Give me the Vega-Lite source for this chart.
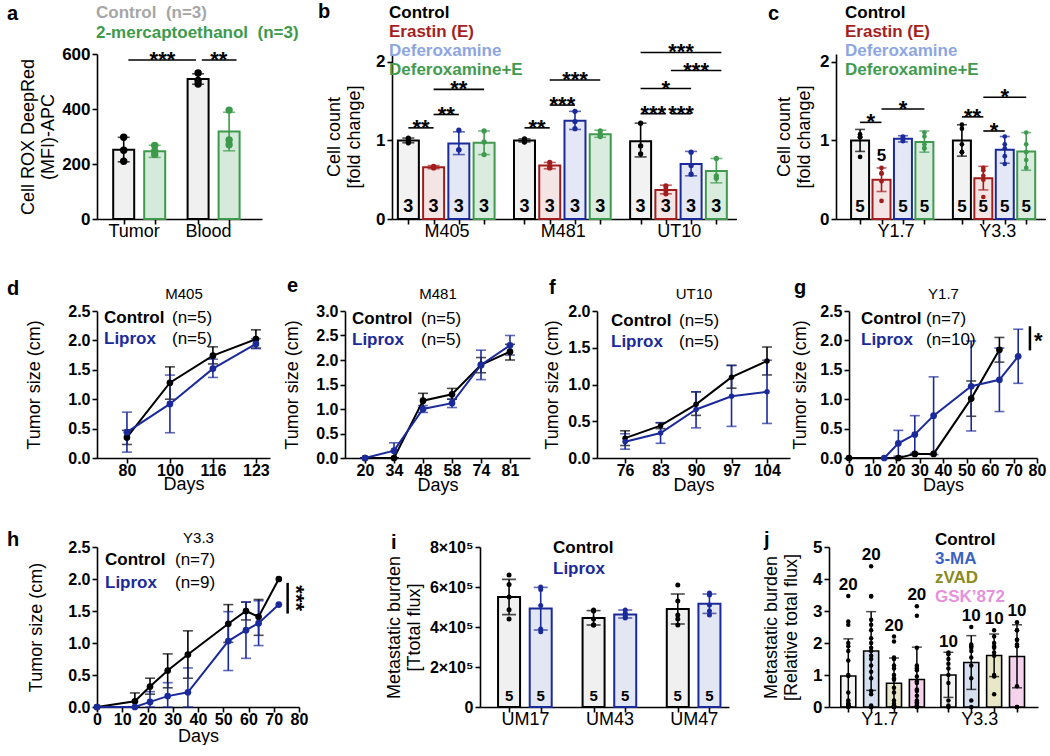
{
"$schema": "https://vega.github.io/schema/vega-lite/v6.json",
"background": "white",
"padding": {"left": 7, "top": 2, "right": 0, "bottom": 0},
"spacing": 36,
"resolve": {"scale": {"color": "independent", "fill": "independent", "stroke": "independent", "shape": "independent"}, "legend": {"color": "independent", "fill": "independent", "stroke": "independent", "shape": "independent"}},
"vconcat": [
{
"bounds": "flush", "spacing": 10,
"resolve": {"scale": {"color": "independent", "fill": "independent", "stroke": "independent", "shape": "independent"}, "legend": {"color": "independent", "fill": "independent", "stroke": "independent", "shape": "independent"}},
"hconcat": [
{
"width": 165, "height": 165,
"title": {"text": "a", "dx": -90, "dy": 24},
"resolve": {"axis": {"x": "independent", "y": "independent"}},
"layer": [
{"data": {"name": "a_bars"}, "mark": {"type": "bar", "width": 21, "strokeWidth": 2},
"encoding": {
"x": {"field": "pos", "type": "quantitative", "scale": {"domain": [0.3, 5.3], "nice": false, "zero": false}, "axis": {"orient": "bottom", "values": [1, 2, 3.4, 4.4], "labelExpr": "datum.value == 1 ? 'Tumor' : datum.value == 3.4 ? 'Blood' : ''", "labelOffset": 10, "labelPadding": -2, "labelFontWeight": "normal", "labelFontSize": 18, "title": null, "labelOverlap": false, "labelFlush": false}},
"y": {"field": "mean", "type": "quantitative", "scale": {"domain": [0, 600], "nice": false}, "axis": {"orient": "left", "values": [0, 200, 400, 600], "labelExpr": "'' + datum.value", "labelOverlap": false, "title": ["Cell ROX DeepRed", "(MFI)-APC"], "titleFontSize": 18, "titlePadding": 4, "labelFontSize": 17}},
"fill": {"field": "trt", "type": "nominal", "scale": {"domain": ["Control", "2-mercaptoethanol"], "range": ["#f0f0f0", "#d6eadb"]}, "legend": {"orient": "none", "legendX": -18, "legendY": -50, "title": null, "labelExpr": "datum.label + '\u00a0 (n=3)'", "labelColor": {"expr": "datum.value == 'Control' ? '#a6a6a6' : '#3d9a4a'"}, "labelFontSize": 17, "labelFontWeight": "bold", "rowPadding": 2}},
"stroke": {"field": "trt", "type": "nominal", "scale": {"domain": ["Control", "2-mercaptoethanol"], "range": ["#000000", "#3d9a4a"]}, "legend": null}}},
{"data": {"name": "a_bars"}, "mark": {"type": "errorbar", "ticks": {"size": 12}, "thickness": 1.6},
"encoding": {"x": {"field": "pos", "type": "quantitative", "axis": null}, "y": {"field": "lo", "type": "quantitative", "axis": null}, "y2": {"field": "hi"},
"color": {"field": "trt", "type": "nominal", "scale": {"domain": ["Control", "2-mercaptoethanol"], "range": ["#000000", "#3d9a4a"]}, "legend": null}}},
{"data": {"name": "a_pts"}, "mark": {"type": "circle", "size": 55, "opacity": 1},
"encoding": {"x": {"field": "pos", "type": "quantitative", "axis": null}, "y": {"field": "v", "type": "quantitative", "axis": null}, "color": {"field": "trt", "type": "nominal", "legend": null}}},
{"data": {"name": "a_sig"}, "mark": {"type": "rule", "strokeWidth": 1.6, "color": "#000000"},
"encoding": {"x": {"field": "x1", "type": "quantitative", "axis": null}, "x2": {"field": "x2"}, "y": {"field": "y", "type": "quantitative", "axis": null}}},
{"data": {"name": "a_sig"}, "mark": {"type": "text", "baseline": "alphabetic", "dy": 7, "fontSize": 22, "fontWeight": "bold", "font": "Liberation Sans"},
"encoding": {"x": {"field": "mid", "type": "quantitative", "axis": null}, "y": {"field": "y", "type": "quantitative", "axis": null}, "text": {"field": "lab"}}}
]
},
{"width": 110, "height": 1, "data": {"values": []}, "mark": "point", "encoding": {}},
{
"width": 344.5, "height": 165,
"title": {"text": "b", "dx": -74, "dy": 22},
"resolve": {"axis": {"x": "independent", "y": "independent"}},
"layer": [
{"data": {"name": "b_bars"}, "mark": {"type": "bar", "width": 21, "strokeWidth": 2},
"encoding": {
"x": {"field": "pos", "type": "quantitative", "scale": {"domain": [0.55, 13.8], "nice": false, "zero": false}, "axis": {"orient": "bottom", "values": [1, 2, 3, 4, 5.6, 6.6, 7.6, 8.6, 10.2, 11.2, 12.2, 13.2], "labelExpr": "datum.value == 2 ? 'M405' : datum.value == 6.6 ? 'M481' : datum.value == 11.2 ? 'UT10' : ''", "labelOffset": 13, "labelPadding": -2, "labelFontWeight": "normal", "labelFontSize": 18, "title": null, "labelOverlap": false, "labelFlush": false}},
"y": {"field": "mean", "type": "quantitative", "scale": {"domain": [0, 2.1], "nice": false}, "axis": {"orient": "left", "values": [0, 1, 2], "labelExpr": "'' + datum.value", "labelOverlap": false, "labelBound": false, "labelFlush": false, "title": ["Cell count", "[fold change]"], "titleFontSize": 18, "titlePadding": 12, "labelFontSize": 17}},
"fill": {"field": "trt", "type": "nominal", "scale": {"domain": ["Control", "Erastin (E)", "Deferoxamine", "Deferoxamine+E"], "range": ["#f2f2f2", "#f4e4e4", "#e4e7f5", "#d9ecdd"]}, "legend": {"orient": "none", "legendX": -20, "legendY": -50, "title": null, "labelColor": {"expr": "datum.value == 'Control' ? '#000000' : datum.value == 'Erastin (E)' ? '#a51f1f' : datum.value == 'Deferoxamine' ? '#8da6e2' : '#3f9b4e'"}, "labelFontSize": 17, "labelFontWeight": "bold", "rowPadding": 1}},
"stroke": {"field": "trt", "type": "nominal", "scale": {"domain": ["Control", "Erastin (E)", "Deferoxamine", "Deferoxamine+E"], "range": ["#000000", "#a21d1d", "#1b2a9b", "#3f9a50"]}, "legend": null}}},
{"data": {"name": "b_bars"}, "mark": {"type": "errorbar", "ticks": {"size": 12}, "thickness": 1.6},
"encoding": {"x": {"field": "pos", "type": "quantitative", "axis": null}, "y": {"field": "lo", "type": "quantitative", "axis": null}, "y2": {"field": "hi"},
"color": {"field": "trt", "type": "nominal", "scale": {"domain": ["Control", "Erastin (E)", "Deferoxamine", "Deferoxamine+E"], "range": ["#000000", "#a21d1d", "#1b2a9b", "#3f9a50"]}, "legend": null}}},
{"data": {"name": "b_pts"}, "mark": {"type": "circle", "size": 28, "opacity": 1},
"encoding": {"x": {"field": "pos", "type": "quantitative", "axis": null}, "y": {"field": "v", "type": "quantitative", "axis": null}, "color": {"field": "trt", "type": "nominal", "legend": null}}},
{"data": {"name": "b_bars"}, "mark": {"type": "text", "baseline": "bottom", "dy": -3, "fontSize": 18, "fontWeight": "bold", "font": "Liberation Sans", "color": "#000000"},
"encoding": {"x": {"field": "pos", "type": "quantitative", "axis": null}, "y": {"datum": 0, "axis": null}, "text": {"field": "n"}}},
{"data": {"name": "b_sig"}, "mark": {"type": "rule", "strokeWidth": 1.6, "color": "#000000"},
"encoding": {"x": {"field": "x1", "type": "quantitative", "axis": null}, "x2": {"field": "x2"}, "y": {"field": "y", "type": "quantitative", "axis": null}}},
{"data": {"name": "b_sig"}, "mark": {"type": "text", "baseline": "alphabetic", "dy": 7, "fontSize": 22, "fontWeight": "bold", "font": "Liberation Sans"},
"encoding": {"x": {"field": "mid", "type": "quantitative", "axis": null}, "y": {"field": "y", "type": "quantitative", "axis": null}, "text": {"field": "lab"}}}
]
},
{"width": 79, "height": 1, "data": {"values": []}, "mark": "point", "encoding": {}},
{
"width": 210, "height": 165,
"title": {"text": "c", "dx": -68, "dy": 24},
"resolve": {"axis": {"x": "independent", "y": "independent"}},
"layer": [
{"data": {"name": "c_bars"}, "mark": {"type": "bar", "width": 18, "strokeWidth": 2},
"encoding": {
"x": {"field": "pos", "type": "quantitative", "scale": {"domain": [0.11, 9.44], "nice": false, "zero": false}, "axis": {"orient": "bottom", "values": [1, 2, 3, 4, 5.75, 6.75, 7.75, 8.75], "labelExpr": "datum.value == 2 ? 'Y1.7' : datum.value == 6.75 ? 'Y3.3' : ''", "labelOffset": 14, "labelPadding": -2, "labelFontWeight": "normal", "labelFontSize": 18, "title": null, "labelOverlap": false, "labelFlush": false}},
"y": {"field": "mean", "type": "quantitative", "scale": {"domain": [0, 2.1], "nice": false}, "axis": {"orient": "left", "values": [0, 1, 2], "labelExpr": "'' + datum.value", "labelOverlap": false, "labelBound": false, "labelFlush": false, "title": ["Cell count", "[fold change]"], "titleFontSize": 18, "titlePadding": 6, "labelFontSize": 17}},
"fill": {"field": "trt", "type": "nominal", "scale": {"domain": ["Control", "Erastin (E)", "Deferoxamine", "Deferoxamine+E"], "range": ["#f2f2f2", "#f4e4e4", "#e4e7f5", "#d9ecdd"]}, "legend": {"orient": "none", "legendX": -8, "legendY": -50, "title": null, "labelColor": {"expr": "datum.value == 'Control' ? '#000000' : datum.value == 'Erastin (E)' ? '#a51f1f' : datum.value == 'Deferoxamine' ? '#8da6e2' : '#3f9b4e'"}, "labelFontSize": 17, "labelFontWeight": "bold", "rowPadding": 1}},
"stroke": {"field": "trt", "type": "nominal", "scale": {"domain": ["Control", "Erastin (E)", "Deferoxamine", "Deferoxamine+E"], "range": ["#000000", "#a21d1d", "#1b2a9b", "#3f9a50"]}, "legend": null}}},
{"data": {"name": "c_bars"}, "mark": {"type": "errorbar", "ticks": {"size": 10}, "thickness": 1.6},
"encoding": {"x": {"field": "pos", "type": "quantitative", "axis": null}, "y": {"field": "lo", "type": "quantitative", "axis": null}, "y2": {"field": "hi"},
"color": {"field": "trt", "type": "nominal", "scale": {"domain": ["Control", "Erastin (E)", "Deferoxamine", "Deferoxamine+E"], "range": ["#000000", "#a21d1d", "#1b2a9b", "#3f9a50"]}, "legend": null}}},
{"data": {"name": "c_pts"}, "mark": {"type": "circle", "size": 22, "opacity": 1},
"encoding": {"x": {"field": "pos", "type": "quantitative", "axis": null}, "y": {"field": "v", "type": "quantitative", "axis": null}, "color": {"field": "trt", "type": "nominal", "legend": null}}},
{"data": {"name": "c_bars"}, "transform": [{"filter": "datum.pos != 2"}], "mark": {"type": "text", "baseline": "bottom", "dy": -3, "fontSize": 17, "fontWeight": "bold", "font": "Liberation Sans", "color": "#000000"},
"encoding": {"x": {"field": "pos", "type": "quantitative", "axis": null}, "y": {"datum": 0, "axis": null}, "text": {"field": "n"}}},
{"data": {"name": "c_bars"}, "transform": [{"filter": "datum.pos == 2"}], "mark": {"type": "text", "baseline": "bottom", "dy": -3, "fontSize": 17, "fontWeight": "bold", "font": "Liberation Sans", "color": "#000000"},
"encoding": {"x": {"field": "pos", "type": "quantitative", "axis": null}, "y": {"field": "hi", "type": "quantitative", "axis": null}, "text": {"field": "n"}}},
{"data": {"name": "c_sig"}, "mark": {"type": "rule", "strokeWidth": 1.6, "color": "#000000"},
"encoding": {"x": {"field": "x1", "type": "quantitative", "axis": null}, "x2": {"field": "x2"}, "y": {"field": "y", "type": "quantitative", "axis": null}}},
{"data": {"name": "c_sig"}, "mark": {"type": "text", "baseline": "alphabetic", "dy": 7, "fontSize": 22, "fontWeight": "bold", "font": "Liberation Sans"},
"encoding": {"x": {"field": "mid", "type": "quantitative", "axis": null}, "y": {"field": "y", "type": "quantitative", "axis": null}, "text": {"field": "lab"}}}
]
}
]
},
{
"bounds": "flush", "spacing": 10,
"resolve": {"scale": {"color": "independent", "fill": "independent", "stroke": "independent", "shape": "independent"}, "legend": {"color": "independent", "fill": "independent", "stroke": "independent", "shape": "independent"}},
"hconcat": [
{
"width": 173, "height": 147,
"title": {"text": "d", "dx": -90, "dy": 17},
"data": {"name": "d_data"},
"resolve": {"axis": {"x": "independent", "y": "independent"}},
"layer": [
{"mark": {"type": "errorbar", "ticks": {"size": 10}, "thickness": 1.6},
"encoding": {
"x": {"field": "day", "type": "ordinal", "scale": {"type": "point", "padding": 0.512, "align": 0.68}, "axis": null},
"y": {"field": "lo", "type": "quantitative", "axis": null}, "y2": {"field": "hi"},
"color": {"field": "grp", "type": "nominal", "scale": {"domain": ["Control", "Liprox"], "range": ["#000000", "#1b2a9a"]}}}},
{"mark": {"type": "line", "strokeWidth": 2},
"encoding": {
"x": {"field": "day", "type": "ordinal", "axis": {"orient": "bottom", "domain": true, "ticks": true, "title": "Days", "labelAngle": 0, "labelFontSize": 16, "titleFontSize": 18, "titlePadding": -3, "labelPadding": -1}},
"y": {"field": "mean", "type": "quantitative", "scale": {"domain": [0, 2.5], "nice": false}, "axis": {"orient": "left", "values": [0, 0.5, 1, 1.5, 2, 2.5], "format": ".1f", "labelOverlap": false, "title": "Tumor size (cm)", "titleFontSize": 18, "titlePadding": 24}},
"color": {"field": "grp", "type": "nominal", "legend": {"orient": "none", "legendX": -10, "legendY": -2, "title": null, "labelColor": {"expr": "datum.value == 'Control' ? '#000000' : '#1b2a9a'"}, "labelFontSize": 17, "labelFontWeight": "bold", "rowPadding": 3}}}},
{"mark": {"type": "point", "filled": true, "size": 45, "opacity": 1},
"encoding": {
"x": {"field": "day", "type": "ordinal", "axis": {"orient": "top", "title": "M405", "labels": false, "ticks": false, "domain": false, "titleFontSize": 15, "titleFontWeight": "normal", "titlePadding": 10}},
"y": {"field": "mean", "type": "quantitative", "axis": null},
"color": {"field": "grp", "type": "nominal"},
"shape": {"field": "nlab", "type": "nominal", "scale": {"range": ["circle", "circle"]}, "legend": {"orient": "none", "legendX": 58, "legendY": -2, "title": null, "labelExpr": "split(datum.label, ' ')[1]", "labelColor": "#000000", "labelFontSize": 17, "labelFontWeight": "normal", "rowPadding": 3}}}}
]
},
{"width": 55, "height": 1, "data": {"values": []}, "mark": "point", "encoding": {}},
{
"width": 185, "height": 147,
"title": {"text": "e", "dx": -58, "dy": 14},
"data": {"name": "e_data"},
"resolve": {"axis": {"x": "independent", "y": "independent"}},
"layer": [
{"mark": {"type": "errorbar", "ticks": {"size": 10}, "thickness": 1.6},
"encoding": {
"x": {"field": "day", "type": "ordinal", "scale": {"type": "point", "padding": 0.69, "align": 0.5}, "axis": null},
"y": {"field": "lo", "type": "quantitative", "axis": null}, "y2": {"field": "hi"},
"color": {"field": "grp", "type": "nominal", "scale": {"domain": ["Control", "Liprox"], "range": ["#000000", "#1b2a9a"]}}}},
{"mark": {"type": "line", "strokeWidth": 2},
"encoding": {
"x": {"field": "day", "type": "ordinal", "axis": {"orient": "bottom", "domain": true, "ticks": true, "title": "Days", "labelAngle": 0, "labelFontSize": 16, "titleFontSize": 18, "titlePadding": -2, "labelPadding": -1}},
"y": {"field": "mean", "type": "quantitative", "scale": {"domain": [0, 3], "nice": false}, "axis": {"orient": "left", "values": [0, 0.5, 1, 1.5, 2, 2.5, 3], "format": ".1f", "labelOverlap": false, "title": "Tumor size (cm)", "titleFontSize": 18, "titlePadding": 14}},
"color": {"field": "grp", "type": "nominal", "legend": {"orient": "none", "legendX": -10, "legendY": -1, "title": null, "labelColor": {"expr": "datum.value == 'Control' ? '#000000' : '#1b2a9a'"}, "labelFontSize": 17, "labelFontWeight": "bold", "rowPadding": 3}}}},
{"mark": {"type": "point", "filled": true, "size": 45, "opacity": 1},
"encoding": {
"x": {"field": "day", "type": "ordinal", "axis": {"orient": "top", "title": "M481", "labels": false, "ticks": false, "domain": false, "titleFontSize": 15, "titleFontWeight": "normal", "titlePadding": 10}},
"y": {"field": "mean", "type": "quantitative", "axis": null},
"color": {"field": "grp", "type": "nominal"},
"shape": {"field": "nlab", "type": "nominal", "scale": {"range": ["circle", "circle"]}, "legend": {"orient": "none", "legendX": 59, "legendY": -1, "title": null, "labelExpr": "split(datum.label, ' ')[1]", "labelColor": "#000000", "labelFontSize": 17, "labelFontWeight": "normal", "rowPadding": 3}}}}
]
},
{"width": 47, "height": 1, "data": {"values": []}, "mark": "point", "encoding": {}},
{
"width": 193, "height": 147,
"title": {"text": "f", "dx": -48, "dy": 16},
"data": {"name": "f_data"},
"resolve": {"axis": {"x": "independent", "y": "independent"}},
"layer": [
{"mark": {"type": "errorbar", "ticks": {"size": 10}, "thickness": 1.6},
"encoding": {
"x": {"field": "day", "type": "ordinal", "scale": {"type": "point", "padding": 0.72, "align": 0.55}, "axis": null},
"y": {"field": "lo", "type": "quantitative", "axis": null}, "y2": {"field": "hi"},
"color": {"field": "grp", "type": "nominal", "scale": {"domain": ["Control", "Liprox"], "range": ["#000000", "#1b2a9a"]}}}},
{"mark": {"type": "line", "strokeWidth": 2},
"encoding": {
"x": {"field": "day", "type": "ordinal", "axis": {"orient": "bottom", "domain": true, "ticks": true, "title": "Days", "labelAngle": 0, "labelFontSize": 16, "titleFontSize": 18, "titlePadding": -2, "labelPadding": -1}},
"y": {"field": "mean", "type": "quantitative", "scale": {"domain": [0, 2], "nice": false}, "axis": {"orient": "left", "values": [0, 0.5, 1, 1.5, 2], "format": ".1f", "labelOverlap": false, "title": "Tumor size (cm)", "titleFontSize": 18, "titlePadding": 6}},
"color": {"field": "grp", "type": "nominal", "legend": {"orient": "none", "legendX": -3, "legendY": 1, "title": null, "labelColor": {"expr": "datum.value == 'Control' ? '#000000' : '#1b2a9a'"}, "labelFontSize": 17, "labelFontWeight": "bold", "rowPadding": 3}}}},
{"mark": {"type": "point", "filled": true, "size": 30, "opacity": 1},
"encoding": {
"x": {"field": "day", "type": "ordinal", "axis": {"orient": "top", "title": "UT10", "labels": false, "ticks": false, "domain": false, "titleFontSize": 15, "titleFontWeight": "normal", "titlePadding": 10}},
"y": {"field": "mean", "type": "quantitative", "axis": null},
"color": {"field": "grp", "type": "nominal"},
"shape": {"field": "nlab", "type": "nominal", "scale": {"range": ["circle", "circle"]}, "legend": {"orient": "none", "legendX": 65, "legendY": 1, "title": null, "labelExpr": "split(datum.label, ' ')[1]", "labelColor": "#000000", "labelFontSize": 17, "labelFontWeight": "normal", "rowPadding": 3}}}}
]
},
{"width": 39, "height": 1, "data": {"values": []}, "mark": "point", "encoding": {}},
{
"width": 188, "height": 147,
"title": {"text": "g", "dx": -55, "dy": 16},
"resolve": {"axis": {"x": "independent", "y": "independent"}},
"layer": [
{"data": {"name": "g_data"}, "mark": {"type": "errorbar", "ticks": {"size": 10}, "thickness": 1.6},
"encoding": {
"x": {"field": "day", "type": "quantitative", "scale": {"domain": [0, 80], "nice": false}, "axis": null},
"y": {"field": "lo", "type": "quantitative", "axis": null}, "y2": {"field": "hi"},
"color": {"field": "grp", "type": "nominal", "scale": {"domain": ["Control", "Liprox"], "range": ["#000000", "#1b2a9a"]}}}},
{"data": {"name": "g_data"}, "mark": {"type": "line", "strokeWidth": 2},
"encoding": {
"x": {"field": "day", "type": "quantitative", "axis": {"orient": "bottom", "domain": true, "ticks": true, "title": "Days", "values": [0, 10, 20, 30, 40, 50, 60, 70, 80], "labelFontSize": 16, "titleFontSize": 18, "titlePadding": -2, "labelPadding": -1, "labelOverlap": false, "labelFlush": false}},
"y": {"field": "mean", "type": "quantitative", "scale": {"domain": [0, 2.5], "nice": false}, "axis": {"orient": "left", "values": [0, 0.5, 1, 1.5, 2, 2.5], "format": ".1f", "labelOverlap": false, "title": "Tumor size (cm)", "titleFontSize": 18, "titlePadding": 10}},
"color": {"field": "grp", "type": "nominal", "legend": {"orient": "none", "legendX": -5, "legendY": -1, "title": null, "labelColor": {"expr": "datum.value == 'Control' ? '#000000' : '#1b2a9a'"}, "labelFontSize": 17, "labelFontWeight": "bold", "rowPadding": 3}}}},
{"data": {"name": "g_data"}, "mark": {"type": "point", "filled": true, "size": 45, "opacity": 1},
"encoding": {
"x": {"field": "day", "type": "quantitative", "axis": {"orient": "top", "title": "Y1.7", "labels": false, "ticks": false, "domain": false, "titleFontSize": 15, "titleFontWeight": "normal", "titlePadding": 10}},
"y": {"field": "mean", "type": "quantitative", "axis": null},
"color": {"field": "grp", "type": "nominal"},
"shape": {"field": "nlab", "type": "nominal", "scale": {"range": ["circle", "circle"]}, "legend": {"orient": "none", "legendX": 60, "legendY": -1, "title": null, "labelExpr": "split(datum.label, ' ')[1]", "labelColor": "#000000", "labelFontSize": 17, "labelFontWeight": "normal", "rowPadding": 3}}}},
{"data": {"name": "g_sig"}, "mark": {"type": "rule", "strokeWidth": 2.5, "color": "#000000"},
"encoding": {"x": {"field": "x", "type": "quantitative", "axis": null}, "y": {"field": "y1", "type": "quantitative", "axis": null}, "y2": {"field": "y2"}}},
{"data": {"name": "g_sig"}, "mark": {"type": "text", "baseline": "middle", "dy": 4, "fontSize": 22, "fontWeight": "bold", "font": "Liberation Sans"},
"encoding": {"x": {"field": "tx", "type": "quantitative", "axis": null}, "y": {"field": "ty", "type": "quantitative", "axis": null}, "text": {"field": "lab"}}}
]
}
]
},
{
"bounds": "flush", "spacing": 10,
"resolve": {"scale": {"color": "independent", "fill": "independent", "stroke": "independent", "shape": "independent"}, "legend": {"color": "independent", "fill": "independent", "stroke": "independent", "shape": "independent"}},
"hconcat": [
{
"width": 202, "height": 160,
"title": {"text": "h", "dx": -90, "dy": 24},
"resolve": {"axis": {"x": "independent", "y": "independent"}},
"layer": [
{"data": {"name": "h_data"}, "mark": {"type": "errorbar", "ticks": {"size": 10}, "thickness": 1.6},
"encoding": {
"x": {"field": "day", "type": "quantitative", "scale": {"domain": [0, 80], "nice": false}, "axis": null},
"y": {"field": "lo", "type": "quantitative", "axis": null}, "y2": {"field": "hi"},
"color": {"field": "grp", "type": "nominal", "scale": {"domain": ["Control", "Liprox"], "range": ["#000000", "#1b2a9a"]}}}},
{"data": {"name": "h_data"}, "mark": {"type": "line", "strokeWidth": 2},
"encoding": {
"x": {"field": "day", "type": "quantitative", "axis": {"orient": "bottom", "domain": true, "ticks": true, "title": "Days", "values": [0, 10, 20, 30, 40, 50, 60, 70, 80], "labelFontSize": 16, "titleFontSize": 18, "titlePadding": 0, "labelPadding": -1, "labelOverlap": false, "labelFlush": false}},
"y": {"field": "mean", "type": "quantitative", "scale": {"domain": [0, 2.5], "nice": false}, "axis": {"orient": "left", "values": [0, 0.5, 1, 1.5, 2, 2.5], "format": ".1f", "labelOverlap": false, "title": "Tumor size (cm)", "titleFontSize": 18, "titlePadding": 22}},
"color": {"field": "grp", "type": "nominal", "legend": {"orient": "none", "legendX": -9, "legendY": 4, "title": null, "labelColor": {"expr": "datum.value == 'Control' ? '#000000' : '#1b2a9a'"}, "labelFontSize": 17, "labelFontWeight": "bold", "rowPadding": 5}}}},
{"data": {"name": "h_data"}, "mark": {"type": "point", "filled": true, "size": 45, "opacity": 1},
"encoding": {
"x": {"field": "day", "type": "quantitative", "axis": {"orient": "top", "title": "Y3.3", "labels": false, "ticks": false, "domain": false, "titleFontSize": 15, "titleFontWeight": "normal", "titlePadding": 2}},
"y": {"field": "mean", "type": "quantitative", "axis": null},
"color": {"field": "grp", "type": "nominal"},
"shape": {"field": "nlab", "type": "nominal", "scale": {"range": ["circle", "circle"]}, "legend": {"orient": "none", "legendX": 61, "legendY": 4, "title": null, "labelExpr": "split(datum.label, ' ')[1]", "labelColor": "#000000", "labelFontSize": 17, "labelFontWeight": "normal", "rowPadding": 5}}}},
{"data": {"name": "h_sig"}, "mark": {"type": "rule", "strokeWidth": 2.5, "color": "#000000"},
"encoding": {"x": {"field": "x", "type": "quantitative", "axis": null}, "y": {"field": "y1", "type": "quantitative", "axis": null}, "y2": {"field": "y2"}}},
{"data": {"name": "h_sig"}, "mark": {"type": "text", "baseline": "middle", "align": "center", "angle": 90, "fontSize": 22, "fontWeight": "bold", "font": "Liberation Sans"},
"encoding": {"x": {"field": "tx", "type": "quantitative", "axis": null}, "y": {"field": "ty", "type": "quantitative", "axis": null}, "text": {"field": "lab"}}}
]
},
{"width": 161, "height": 1, "data": {"values": []}, "mark": "point", "encoding": {}},
{
"width": 249, "height": 160,
"title": {"text": "i", "dx": -89, "dy": 18},
"resolve": {"axis": {"x": "independent", "y": "independent"}},
"layer": [
{"data": {"name": "i_bars"}, "mark": {"type": "bar", "width": 22, "strokeWidth": 2},
"encoding": {
"x": {"field": "pos", "type": "quantitative", "scale": {"domain": [0.24, 7.79], "nice": false, "zero": false}, "axis": {"orient": "bottom", "values": [1, 2, 3.67, 4.67, 6.33, 7.33], "labelExpr": "datum.value == 1 ? 'UM17' : datum.value == 3.67 ? 'UM43' : datum.value == 6.33 ? 'UM47' : ''", "labelOffset": 16, "labelPadding": -2, "labelFontWeight": "normal", "labelFontSize": 18, "title": null, "labelOverlap": false, "labelFlush": false}},
"y": {"field": "mean", "type": "quantitative", "scale": {"domain": [0, 800000], "nice": false}, "axis": {"orient": "left", "values": [0, 200000, 400000, 600000, 800000], "labelOverlap": false, "labelExpr": "datum.value == 0 ? '0' : format(datum.value / 100000, 'd') + '×10⁵'", "title": ["Metastatic burden", "[Ttotal flux]"], "titleFontSize": 18, "titlePadding": 6, "labelFontSize": 16}},
"fill": {"field": "trt", "type": "nominal", "scale": {"domain": ["Control", "Liprox"], "range": ["#f0f0f0", "#e3e6f3"]}, "legend": {"orient": "none", "legendX": 56, "legendY": -8, "title": null, "labelColor": {"expr": "datum.value == 'Control' ? '#000000' : '#1b2a9a'"}, "labelFontSize": 17, "labelFontWeight": "bold", "rowPadding": 3}},
"stroke": {"field": "trt", "type": "nominal", "scale": {"domain": ["Control", "Liprox"], "range": ["#000000", "#1b2a9a"]}, "legend": null}}},
{"data": {"name": "i_bars"}, "mark": {"type": "errorbar", "ticks": {"size": 14}, "thickness": 1.6},
"encoding": {"x": {"field": "pos", "type": "quantitative", "axis": null}, "y": {"field": "lo", "type": "quantitative", "axis": null}, "y2": {"field": "hi"},
"color": {"field": "trt", "type": "nominal", "scale": {"domain": ["Control", "Liprox"], "range": ["#000000", "#1b2a9a"]}, "legend": null}}},
{"data": {"name": "i_pts"}, "mark": {"type": "circle", "size": 25, "opacity": 1},
"encoding": {"x": {"field": "pos", "type": "quantitative", "axis": null}, "y": {"field": "v", "type": "quantitative", "axis": null}, "color": {"field": "trt", "type": "nominal", "legend": null}}},
{"data": {"name": "i_bars"}, "mark": {"type": "text", "baseline": "bottom", "dy": -3, "fontSize": 15, "fontWeight": "bold", "font": "Liberation Sans", "color": "#000000"},
"encoding": {"x": {"field": "pos", "type": "quantitative", "axis": null}, "y": {"datum": 0, "axis": null}, "text": {"field": "n"}}}
]
},
{"width": 80, "height": 1, "data": {"values": []}, "mark": "point", "encoding": {}},
{
"width": 209, "height": 160,
"title": {"text": "j", "dx": -65, "dy": 23},
"resolve": {"axis": {"x": "independent", "y": "independent"}},
"layer": [
{"data": {"name": "j_bars"}, "mark": {"type": "bar", "width": 15, "strokeWidth": 1.6, "stroke": "#000000"},
"encoding": {
"x": {"field": "pos", "type": "quantitative", "scale": {"domain": [0.375, 9.08], "nice": false, "zero": false}, "axis": {"orient": "bottom", "values": [1, 2, 3, 4, 5.38, 6.38, 7.38, 8.38], "labelExpr": "datum.value == 2 ? 'Y1.7' : datum.value == 6.38 ? 'Y3.3' : ''", "labelOffset": 8, "labelPadding": -2, "labelFontWeight": "normal", "labelFontSize": 18, "title": null, "labelOverlap": false, "labelFlush": false}},
"y": {"field": "mean", "type": "quantitative", "scale": {"domain": [0, 5], "nice": false}, "axis": {"orient": "left", "values": [0, 1, 2, 3, 4, 5], "labelExpr": "'' + datum.value", "labelOverlap": false, "title": ["Metastatic burden", "[Relative total flux]"], "titleFontSize": 18, "titlePadding": 12, "labelFontSize": 17}},
"fill": {"field": "trt", "type": "nominal", "scale": {"domain": ["Control", "3-MA", "zVAD", "GSK’872"], "range": ["#f4f4f4", "#d6dff0", "#e8e7c8", "#f6d3ec"]}, "legend": {"orient": "none", "legendX": 89, "legendY": -16, "title": null, "labelColor": {"expr": "datum.value == 'Control' ? '#000000' : datum.value == '3-MA' ? '#3b63c4' : datum.value == 'zVAD' ? '#8b8a1c' : '#e592da'"}, "labelFontSize": 17, "labelFontWeight": "bold", "rowPadding": 1}}}},
{"data": {"name": "j_bars"}, "mark": {"type": "errorbar", "ticks": {"size": 10}, "thickness": 1.5, "color": "#000000"},
"encoding": {"x": {"field": "pos", "type": "quantitative", "axis": null}, "y": {"field": "lo", "type": "quantitative", "axis": null}, "y2": {"field": "hi"}}},
{"data": {"name": "j_pts"}, "mark": {"type": "circle", "size": 20, "opacity": 1, "color": "#000000"},
"encoding": {"x": {"field": "pos", "type": "quantitative", "axis": null}, "y": {"field": "v", "type": "quantitative", "axis": null}}},
{"data": {"name": "j_pts"}, "mark": {"type": "text", "baseline": "bottom", "dy": -2, "fontSize": 17, "fontWeight": "bold", "font": "Liberation Sans", "color": "#000000"},
"encoding": {"x": {"field": "pos", "type": "quantitative", "axis": null}, "y": {"aggregate": "max", "field": "v", "type": "quantitative", "axis": null}, "text": {"aggregate": "count", "type": "quantitative"}}}
]
}
]
}
],
"datasets": {
"a_bars": [
{"pos": 1, "trt": "Control", "mean": 252, "lo": 208, "hi": 297},
{"pos": 2, "trt": "2-mercaptoethanol", "mean": 246, "lo": 224, "hi": 268},
{"pos": 3.4, "trt": "Control", "mean": 509, "lo": 490, "hi": 528},
{"pos": 4.4, "trt": "2-mercaptoethanol", "mean": 318, "lo": 248, "hi": 388}
],
"a_pts": [
{"pos": 1, "trt": "Control", "v": 297}, {"pos": 1, "trt": "Control", "v": 250}, {"pos": 1, "trt": "Control", "v": 210},
{"pos": 2, "trt": "2-mercaptoethanol", "v": 267}, {"pos": 2, "trt": "2-mercaptoethanol", "v": 247}, {"pos": 2, "trt": "2-mercaptoethanol", "v": 235},
{"pos": 3.4, "trt": "Control", "v": 531}, {"pos": 3.4, "trt": "Control", "v": 504}, {"pos": 3.4, "trt": "Control", "v": 491},
{"pos": 4.4, "trt": "2-mercaptoethanol", "v": 396}, {"pos": 4.4, "trt": "2-mercaptoethanol", "v": 287}, {"pos": 4.4, "trt": "2-mercaptoethanol", "v": 270}
],
"a_sig": [
{"x1": 1.15, "x2": 3.33, "mid": 2.25, "y": 578, "lab": "***"},
{"x1": 3.52, "x2": 4.64, "mid": 4.07, "y": 578, "lab": "**"}
],
"b_bars": [
{"pos": 1, "trt": "Control", "mean": 1.0, "lo": 0.97, "hi": 1.03, "n": 3},
{"pos": 2, "trt": "Erastin (E)", "mean": 0.66, "lo": 0.64, "hi": 0.68, "n": 3},
{"pos": 3, "trt": "Deferoxamine", "mean": 0.96, "lo": 0.82, "hi": 1.11, "n": 3},
{"pos": 4, "trt": "Deferoxamine+E", "mean": 0.97, "lo": 0.82, "hi": 1.12, "n": 3},
{"pos": 5.6, "trt": "Control", "mean": 1.0, "lo": 0.98, "hi": 1.02, "n": 3},
{"pos": 6.6, "trt": "Erastin (E)", "mean": 0.68, "lo": 0.64, "hi": 0.72, "n": 3},
{"pos": 7.6, "trt": "Deferoxamine", "mean": 1.25, "lo": 1.14, "hi": 1.37, "n": 3},
{"pos": 8.6, "trt": "Deferoxamine+E", "mean": 1.08, "lo": 1.04, "hi": 1.13, "n": 3},
{"pos": 10.2, "trt": "Control", "mean": 0.99, "lo": 0.79, "hi": 1.22, "n": 3},
{"pos": 11.2, "trt": "Erastin (E)", "mean": 0.37, "lo": 0.32, "hi": 0.43, "n": 3},
{"pos": 12.2, "trt": "Deferoxamine", "mean": 0.7, "lo": 0.55, "hi": 0.86, "n": 3},
{"pos": 13.2, "trt": "Deferoxamine+E", "mean": 0.61, "lo": 0.46, "hi": 0.77, "n": 3}
],
"b_pts": [
{"pos": 1, "trt": "Control", "v": 1.03}, {"pos": 1, "trt": "Control", "v": 1.0}, {"pos": 1, "trt": "Control", "v": 0.97},
{"pos": 2, "trt": "Erastin (E)", "v": 0.67}, {"pos": 2, "trt": "Erastin (E)", "v": 0.66}, {"pos": 2, "trt": "Erastin (E)", "v": 0.65},
{"pos": 3, "trt": "Deferoxamine", "v": 1.13}, {"pos": 3, "trt": "Deferoxamine", "v": 0.88}, {"pos": 3, "trt": "Deferoxamine", "v": 0.88},
{"pos": 4, "trt": "Deferoxamine+E", "v": 1.12}, {"pos": 4, "trt": "Deferoxamine+E", "v": 0.98}, {"pos": 4, "trt": "Deferoxamine+E", "v": 0.82},
{"pos": 5.6, "trt": "Control", "v": 1.02}, {"pos": 5.6, "trt": "Control", "v": 1.0}, {"pos": 5.6, "trt": "Control", "v": 0.98},
{"pos": 6.6, "trt": "Erastin (E)", "v": 0.72}, {"pos": 6.6, "trt": "Erastin (E)", "v": 0.67}, {"pos": 6.6, "trt": "Erastin (E)", "v": 0.65},
{"pos": 7.6, "trt": "Deferoxamine", "v": 1.37}, {"pos": 7.6, "trt": "Deferoxamine", "v": 1.24}, {"pos": 7.6, "trt": "Deferoxamine", "v": 1.15},
{"pos": 8.6, "trt": "Deferoxamine+E", "v": 1.12}, {"pos": 8.6, "trt": "Deferoxamine+E", "v": 1.07}, {"pos": 8.6, "trt": "Deferoxamine+E", "v": 1.05},
{"pos": 10.2, "trt": "Control", "v": 1.22}, {"pos": 10.2, "trt": "Control", "v": 0.93}, {"pos": 10.2, "trt": "Control", "v": 0.83},
{"pos": 11.2, "trt": "Erastin (E)", "v": 0.42}, {"pos": 11.2, "trt": "Erastin (E)", "v": 0.37}, {"pos": 11.2, "trt": "Erastin (E)", "v": 0.32},
{"pos": 12.2, "trt": "Deferoxamine", "v": 0.85}, {"pos": 12.2, "trt": "Deferoxamine", "v": 0.68}, {"pos": 12.2, "trt": "Deferoxamine", "v": 0.57},
{"pos": 13.2, "trt": "Deferoxamine+E", "v": 0.77}, {"pos": 13.2, "trt": "Deferoxamine+E", "v": 0.55}, {"pos": 13.2, "trt": "Deferoxamine+E", "v": 0.52}
],
"b_sig": [
{"x1": 1, "x2": 2, "mid": 1.5, "y": 1.16, "lab": "**"},
{"x1": 2, "x2": 3, "mid": 2.5, "y": 1.33, "lab": "**"},
{"x1": 2, "x2": 4, "mid": 3, "y": 1.65, "lab": "**"},
{"x1": 5.6, "x2": 6.6, "mid": 6.1, "y": 1.16, "lab": "**"},
{"x1": 6.6, "x2": 7.6, "mid": 7.1, "y": 1.45, "lab": "***"},
{"x1": 6.6, "x2": 8.6, "mid": 7.6, "y": 1.77, "lab": "***"},
{"x1": 10.2, "x2": 11.2, "mid": 10.7, "y": 1.34, "lab": "***"},
{"x1": 11.4, "x2": 12.2, "mid": 11.8, "y": 1.34, "lab": "***"},
{"x1": 10.2, "x2": 12.2, "mid": 11.2, "y": 1.66, "lab": "*"},
{"x1": 11.4, "x2": 13.4, "mid": 12.4, "y": 1.89, "lab": "***"},
{"x1": 10.2, "x2": 13.4, "mid": 11.8, "y": 2.12, "lab": "***"}
],
"c_bars": [
{"pos": 1, "trt": "Control", "mean": 1.0, "lo": 0.86, "hi": 1.14, "n": 5},
{"pos": 2, "trt": "Erastin (E)", "mean": 0.5, "lo": 0.35, "hi": 0.65, "n": 5},
{"pos": 3, "trt": "Deferoxamine", "mean": 1.02, "lo": 0.98, "hi": 1.06, "n": 5},
{"pos": 4, "trt": "Deferoxamine+E", "mean": 0.98, "lo": 0.85, "hi": 1.12, "n": 5},
{"pos": 5.75, "trt": "Control", "mean": 1.0, "lo": 0.8, "hi": 1.2, "n": 5},
{"pos": 6.75, "trt": "Erastin (E)", "mean": 0.52, "lo": 0.37, "hi": 0.67, "n": 5},
{"pos": 7.75, "trt": "Deferoxamine", "mean": 0.88, "lo": 0.71, "hi": 1.05, "n": 5},
{"pos": 8.75, "trt": "Deferoxamine+E", "mean": 0.86, "lo": 0.62, "hi": 1.1, "n": 5}
],
"c_pts": [
{"pos": 1, "trt": "Control", "v": 1.08}, {"pos": 1, "trt": "Control", "v": 1.05}, {"pos": 1, "trt": "Control", "v": 1.04}, {"pos": 1, "trt": "Control", "v": 1.04}, {"pos": 1, "trt": "Control", "v": 0.79},
{"pos": 2, "trt": "Erastin (E)", "v": 0.65}, {"pos": 2, "trt": "Erastin (E)", "v": 0.58}, {"pos": 2, "trt": "Erastin (E)", "v": 0.58}, {"pos": 2, "trt": "Erastin (E)", "v": 0.48}, {"pos": 2, "trt": "Erastin (E)", "v": 0.23},
{"pos": 3, "trt": "Deferoxamine", "v": 1.05}, {"pos": 3, "trt": "Deferoxamine", "v": 1.04}, {"pos": 3, "trt": "Deferoxamine", "v": 1.02}, {"pos": 3, "trt": "Deferoxamine", "v": 1.0}, {"pos": 3, "trt": "Deferoxamine", "v": 0.99},
{"pos": 4, "trt": "Deferoxamine+E", "v": 1.1}, {"pos": 4, "trt": "Deferoxamine+E", "v": 1.05}, {"pos": 4, "trt": "Deferoxamine+E", "v": 0.95}, {"pos": 4, "trt": "Deferoxamine+E", "v": 0.9}, {"pos": 4, "trt": "Deferoxamine+E", "v": 0.9},
{"pos": 5.75, "trt": "Control", "v": 1.2}, {"pos": 5.75, "trt": "Control", "v": 1.15}, {"pos": 5.75, "trt": "Control", "v": 0.95}, {"pos": 5.75, "trt": "Control", "v": 0.85}, {"pos": 5.75, "trt": "Control", "v": 0.85},
{"pos": 6.75, "trt": "Erastin (E)", "v": 0.65}, {"pos": 6.75, "trt": "Erastin (E)", "v": 0.62}, {"pos": 6.75, "trt": "Erastin (E)", "v": 0.55}, {"pos": 6.75, "trt": "Erastin (E)", "v": 0.5}, {"pos": 6.75, "trt": "Erastin (E)", "v": 0.28},
{"pos": 7.75, "trt": "Deferoxamine", "v": 1.05}, {"pos": 7.75, "trt": "Deferoxamine", "v": 0.95}, {"pos": 7.75, "trt": "Deferoxamine", "v": 0.9}, {"pos": 7.75, "trt": "Deferoxamine", "v": 0.8}, {"pos": 7.75, "trt": "Deferoxamine", "v": 0.7},
{"pos": 8.75, "trt": "Deferoxamine+E", "v": 1.1}, {"pos": 8.75, "trt": "Deferoxamine+E", "v": 0.95}, {"pos": 8.75, "trt": "Deferoxamine+E", "v": 0.85}, {"pos": 8.75, "trt": "Deferoxamine+E", "v": 0.75}, {"pos": 8.75, "trt": "Deferoxamine+E", "v": 0.65}
],
"c_sig": [
{"x1": 1, "x2": 2, "mid": 1.5, "y": 1.23, "lab": "*"},
{"x1": 2, "x2": 4, "mid": 3, "y": 1.4, "lab": "*"},
{"x1": 5.75, "x2": 6.75, "mid": 6.25, "y": 1.3, "lab": "**"},
{"x1": 6.75, "x2": 7.75, "mid": 7.25, "y": 1.12, "lab": "*"},
{"x1": 6.75, "x2": 8.75, "mid": 7.75, "y": 1.55, "lab": "*"}
],
"d_data": [
{"day": 80, "grp": "Control", "nlab": "Control (n=5)", "mean": 0.35, "lo": 0.23, "hi": 0.47},
{"day": 100, "grp": "Control", "nlab": "Control (n=5)", "mean": 1.28, "lo": 1.0, "hi": 1.55},
{"day": 116, "grp": "Control", "nlab": "Control (n=5)", "mean": 1.74, "lo": 1.6, "hi": 1.89},
{"day": 123, "grp": "Control", "nlab": "Control (n=5)", "mean": 2.02, "lo": 1.87, "hi": 2.18},
{"day": 80, "grp": "Liprox", "nlab": "Liprox (n=5)", "mean": 0.44, "lo": 0.1, "hi": 0.78},
{"day": 100, "grp": "Liprox", "nlab": "Liprox (n=5)", "mean": 0.92, "lo": 0.43, "hi": 1.41},
{"day": 116, "grp": "Liprox", "nlab": "Liprox (n=5)", "mean": 1.52, "lo": 1.37, "hi": 1.68},
{"day": 123, "grp": "Liprox", "nlab": "Liprox (n=5)", "mean": 1.94, "lo": 1.86, "hi": 2.03}
],
"e_data": [
{"day": 20, "grp": "Control", "nlab": "Control (n=5)", "mean": 0, "lo": 0, "hi": 0},
{"day": 34, "grp": "Control", "nlab": "Control (n=5)", "mean": 0, "lo": 0, "hi": 0},
{"day": 48, "grp": "Control", "nlab": "Control (n=5)", "mean": 1.17, "lo": 1.02, "hi": 1.32},
{"day": 58, "grp": "Control", "nlab": "Control (n=5)", "mean": 1.3, "lo": 1.2, "hi": 1.42},
{"day": 74, "grp": "Control", "nlab": "Control (n=5)", "mean": 1.9, "lo": 1.74, "hi": 2.05},
{"day": 81, "grp": "Control", "nlab": "Control (n=5)", "mean": 2.17, "lo": 2.0, "hi": 2.32},
{"day": 20, "grp": "Liprox", "nlab": "Liprox (n=5)", "mean": 0, "lo": 0, "hi": 0},
{"day": 34, "grp": "Liprox", "nlab": "Liprox (n=5)", "mean": 0.15, "lo": 0.0, "hi": 0.31},
{"day": 48, "grp": "Liprox", "nlab": "Liprox (n=5)", "mean": 1.0, "lo": 0.93, "hi": 1.07},
{"day": 58, "grp": "Liprox", "nlab": "Liprox (n=5)", "mean": 1.12, "lo": 1.03, "hi": 1.2},
{"day": 74, "grp": "Liprox", "nlab": "Liprox (n=5)", "mean": 1.9, "lo": 1.6, "hi": 2.2},
{"day": 81, "grp": "Liprox", "nlab": "Liprox (n=5)", "mean": 2.3, "lo": 2.1, "hi": 2.5}
],
"f_data": [
{"day": 76, "grp": "Control", "nlab": "Control (n=5)", "mean": 0.27, "lo": 0.17, "hi": 0.37},
{"day": 83, "grp": "Control", "nlab": "Control (n=5)", "mean": 0.44, "lo": 0.4, "hi": 0.48},
{"day": 90, "grp": "Control", "nlab": "Control (n=5)", "mean": 0.73, "lo": 0.58, "hi": 0.9},
{"day": 97, "grp": "Control", "nlab": "Control (n=5)", "mean": 1.1, "lo": 0.95, "hi": 1.26},
{"day": 104, "grp": "Control", "nlab": "Control (n=5)", "mean": 1.32, "lo": 1.13, "hi": 1.51},
{"day": 76, "grp": "Liprox", "nlab": "Liprox (n=5)", "mean": 0.22, "lo": 0.12, "hi": 0.33},
{"day": 83, "grp": "Liprox", "nlab": "Liprox (n=5)", "mean": 0.34, "lo": 0.2, "hi": 0.48},
{"day": 90, "grp": "Liprox", "nlab": "Liprox (n=5)", "mean": 0.66, "lo": 0.41, "hi": 0.9},
{"day": 97, "grp": "Liprox", "nlab": "Liprox (n=5)", "mean": 0.84, "lo": 0.43, "hi": 1.26},
{"day": 104, "grp": "Liprox", "nlab": "Liprox (n=5)", "mean": 0.9, "lo": 0.47, "hi": 1.33}
],
"g_data": [
{"day": 0, "grp": "Control", "nlab": "Control (n=7)", "mean": 0, "lo": null, "hi": null},
{"day": 21, "grp": "Control", "nlab": "Control (n=7)", "mean": 0, "lo": null, "hi": null},
{"day": 28, "grp": "Control", "nlab": "Control (n=7)", "mean": 0.07, "lo": null, "hi": null},
{"day": 36, "grp": "Control", "nlab": "Control (n=7)", "mean": 0.07, "lo": null, "hi": null},
{"day": 52, "grp": "Control", "nlab": "Control (n=7)", "mean": 1.01, "lo": 0.71, "hi": 1.31},
{"day": 64, "grp": "Control", "nlab": "Control (n=7)", "mean": 1.84, "lo": 1.63, "hi": 2.05},
{"day": 15, "grp": "Liprox", "nlab": "Liprox (n=10)", "mean": 0, "lo": null, "hi": null},
{"day": 21, "grp": "Liprox", "nlab": "Liprox (n=10)", "mean": 0.25, "lo": 0.03, "hi": 0.47},
{"day": 28, "grp": "Liprox", "nlab": "Liprox (n=10)", "mean": 0.4, "lo": 0.08, "hi": 0.72},
{"day": 36, "grp": "Liprox", "nlab": "Liprox (n=10)", "mean": 0.72, "lo": 0.06, "hi": 1.38},
{"day": 52, "grp": "Liprox", "nlab": "Liprox (n=10)", "mean": 1.22, "lo": 0.46, "hi": 1.99},
{"day": 64, "grp": "Liprox", "nlab": "Liprox (n=10)", "mean": 1.33, "lo": 0.79, "hi": 1.87},
{"day": 72, "grp": "Liprox", "nlab": "Liprox (n=10)", "mean": 1.73, "lo": 1.27, "hi": 2.19}
],
"g_sig": [{"x": 77, "y1": 1.83, "y2": 2.24, "tx": 80.5, "ty": 2.05, "lab": "*"}],
"h_data": [
{"day": 0, "grp": "Control", "nlab": "Control (n=7)", "mean": 0, "lo": null, "hi": null},
{"day": 15, "grp": "Control", "nlab": "Control (n=7)", "mean": 0.09, "lo": 0, "hi": 0.22},
{"day": 21, "grp": "Control", "nlab": "Control (n=7)", "mean": 0.32, "lo": 0.2, "hi": 0.45},
{"day": 28, "grp": "Control", "nlab": "Control (n=7)", "mean": 0.57, "lo": 0.3, "hi": 0.83},
{"day": 36, "grp": "Control", "nlab": "Control (n=7)", "mean": 0.82, "lo": 0.45, "hi": 1.19},
{"day": 52, "grp": "Control", "nlab": "Control (n=7)", "mean": 1.3, "lo": 1.01, "hi": 1.6},
{"day": 59, "grp": "Control", "nlab": "Control (n=7)", "mean": 1.5, "lo": 1.36, "hi": 1.64},
{"day": 64, "grp": "Control", "nlab": "Control (n=7)", "mean": 1.41, "lo": 1.12, "hi": 1.68},
{"day": 72, "grp": "Control", "nlab": "Control (n=7)", "mean": 2.0, "lo": null, "hi": null},
{"day": 0, "grp": "Liprox", "nlab": "Liprox (n=9)", "mean": 0, "lo": null, "hi": null},
{"day": 15, "grp": "Liprox", "nlab": "Liprox (n=9)", "mean": 0, "lo": null, "hi": null},
{"day": 21, "grp": "Liprox", "nlab": "Liprox (n=9)", "mean": 0.08, "lo": 0, "hi": 0.24},
{"day": 28, "grp": "Liprox", "nlab": "Liprox (n=9)", "mean": 0.17, "lo": 0, "hi": 0.38},
{"day": 36, "grp": "Liprox", "nlab": "Liprox (n=9)", "mean": 0.23, "lo": 0, "hi": 0.61},
{"day": 52, "grp": "Liprox", "nlab": "Liprox (n=9)", "mean": 1.03, "lo": 0.57, "hi": 1.49},
{"day": 59, "grp": "Liprox", "nlab": "Liprox (n=9)", "mean": 1.2, "lo": 0.76, "hi": 1.64},
{"day": 64, "grp": "Liprox", "nlab": "Liprox (n=9)", "mean": 1.31, "lo": 0.96, "hi": 1.66},
{"day": 72, "grp": "Liprox", "nlab": "Liprox (n=9)", "mean": 1.6, "lo": null, "hi": null}
],
"h_sig": [{"x": 75.5, "y1": 1.46, "y2": 1.94, "tx": 79, "ty": 1.7, "lab": "***"}],
"i_bars": [
{"pos": 1, "trt": "Control", "mean": 550000, "lo": 462000, "hi": 638000, "n": 5},
{"pos": 2, "trt": "Liprox", "mean": 492000, "lo": 385000, "hi": 598000, "n": 5},
{"pos": 3.67, "trt": "Control", "mean": 445000, "lo": 410000, "hi": 482000, "n": 5},
{"pos": 4.67, "trt": "Liprox", "mean": 462000, "lo": 445000, "hi": 485000, "n": 5},
{"pos": 6.33, "trt": "Control", "mean": 490000, "lo": 415000, "hi": 565000, "n": 5},
{"pos": 7.33, "trt": "Liprox", "mean": 516000, "lo": 468000, "hi": 565000, "n": 5}
],
"i_pts": [
{"pos": 1, "trt": "Control", "v": 660000}, {"pos": 1, "trt": "Control", "v": 613000}, {"pos": 1, "trt": "Control", "v": 550000}, {"pos": 1, "trt": "Control", "v": 486000}, {"pos": 1, "trt": "Control", "v": 440000},
{"pos": 2, "trt": "Liprox", "v": 600000}, {"pos": 2, "trt": "Liprox", "v": 587000}, {"pos": 2, "trt": "Liprox", "v": 508000}, {"pos": 2, "trt": "Liprox", "v": 390000}, {"pos": 2, "trt": "Liprox", "v": 376000},
{"pos": 3.67, "trt": "Control", "v": 485000}, {"pos": 3.67, "trt": "Control", "v": 480000}, {"pos": 3.67, "trt": "Control", "v": 440000}, {"pos": 3.67, "trt": "Control", "v": 410000}, {"pos": 3.67, "trt": "Control", "v": 410000},
{"pos": 4.67, "trt": "Liprox", "v": 485000}, {"pos": 4.67, "trt": "Liprox", "v": 470000}, {"pos": 4.67, "trt": "Liprox", "v": 460000}, {"pos": 4.67, "trt": "Liprox", "v": 450000}, {"pos": 4.67, "trt": "Liprox", "v": 445000},
{"pos": 6.33, "trt": "Control", "v": 610000}, {"pos": 6.33, "trt": "Control", "v": 530000}, {"pos": 6.33, "trt": "Control", "v": 460000}, {"pos": 6.33, "trt": "Control", "v": 440000}, {"pos": 6.33, "trt": "Control", "v": 410000},
{"pos": 7.33, "trt": "Liprox", "v": 570000}, {"pos": 7.33, "trt": "Liprox", "v": 560000}, {"pos": 7.33, "trt": "Liprox", "v": 510000}, {"pos": 7.33, "trt": "Liprox", "v": 480000}, {"pos": 7.33, "trt": "Liprox", "v": 460000}
],
"j_bars": [
{"pos": 1, "trt": "Control", "mean": 0.97, "lo": 0, "hi": 2.13},
{"pos": 2, "trt": "3-MA", "mean": 1.75, "lo": 0.52, "hi": 2.98},
{"pos": 3, "trt": "zVAD", "mean": 0.74, "lo": 0, "hi": 1.53},
{"pos": 4, "trt": "GSK’872", "mean": 0.86, "lo": 0, "hi": 1.87},
{"pos": 5.38, "trt": "Control", "mean": 1.0, "lo": 0.3, "hi": 1.71},
{"pos": 6.38, "trt": "3-MA", "mean": 1.39, "lo": 0.55, "hi": 2.23},
{"pos": 7.38, "trt": "zVAD", "mean": 1.61, "lo": 0.95, "hi": 2.28},
{"pos": 8.38, "trt": "GSK’872", "mean": 1.58, "lo": 0.6, "hi": 2.57}
],
"j_pts": [
{"pos": 1, "v": 3.47}, {"pos": 1, "v": 2.67}, {"pos": 1, "v": 2.57}, {"pos": 1, "v": 2.0}, {"pos": 1, "v": 1.9}, {"pos": 1, "v": 1.75}, {"pos": 1, "v": 1.45}, {"pos": 1, "v": 1.0}, {"pos": 1, "v": 0.97}, {"pos": 1, "v": 0.45},
{"pos": 1, "v": 0.2}, {"pos": 1, "v": 0.12}, {"pos": 1, "v": 0.1}, {"pos": 1, "v": 0.08}, {"pos": 1, "v": 0.05}, {"pos": 1, "v": 0.05}, {"pos": 1, "v": 0.02}, {"pos": 1, "v": 0.02}, {"pos": 1, "v": 0}, {"pos": 1, "v": 0},
{"pos": 2, "v": 4.4}, {"pos": 2, "v": 3.47}, {"pos": 2, "v": 3.45}, {"pos": 2, "v": 2.73}, {"pos": 2, "v": 2.57}, {"pos": 2, "v": 2.4}, {"pos": 2, "v": 2.15}, {"pos": 2, "v": 2.0}, {"pos": 2, "v": 1.85}, {"pos": 2, "v": 1.75},
{"pos": 2, "v": 1.6}, {"pos": 2, "v": 1.5}, {"pos": 2, "v": 1.3}, {"pos": 2, "v": 1.1}, {"pos": 2, "v": 0.9}, {"pos": 2, "v": 0.5}, {"pos": 2, "v": 0.4}, {"pos": 2, "v": 0.05}, {"pos": 2, "v": 0}, {"pos": 2, "v": 0},
{"pos": 3, "v": 2.2}, {"pos": 3, "v": 2.05}, {"pos": 3, "v": 1.55}, {"pos": 3, "v": 1.5}, {"pos": 3, "v": 1.3}, {"pos": 3, "v": 1.2}, {"pos": 3, "v": 1.0}, {"pos": 3, "v": 0.9}, {"pos": 3, "v": 0.85}, {"pos": 3, "v": 0.6},
{"pos": 3, "v": 0.45}, {"pos": 3, "v": 0.2}, {"pos": 3, "v": 0.1}, {"pos": 3, "v": 0.05}, {"pos": 3, "v": 0.05}, {"pos": 3, "v": 0.02}, {"pos": 3, "v": 0}, {"pos": 3, "v": 0}, {"pos": 3, "v": 0}, {"pos": 3, "v": 0},
{"pos": 4, "v": 3.15}, {"pos": 4, "v": 2.85}, {"pos": 4, "v": 1.85}, {"pos": 4, "v": 1.3}, {"pos": 4, "v": 1.25}, {"pos": 4, "v": 1.2}, {"pos": 4, "v": 1.15}, {"pos": 4, "v": 0.95}, {"pos": 4, "v": 0.8}, {"pos": 4, "v": 0.75},
{"pos": 4, "v": 0.55}, {"pos": 4, "v": 0.5}, {"pos": 4, "v": 0.35}, {"pos": 4, "v": 0.2}, {"pos": 4, "v": 0.15}, {"pos": 4, "v": 0.1}, {"pos": 4, "v": 0.05}, {"pos": 4, "v": 0.02}, {"pos": 4, "v": 0}, {"pos": 4, "v": 0},
{"pos": 5.38, "v": 1.7}, {"pos": 5.38, "v": 1.65}, {"pos": 5.38, "v": 1.5}, {"pos": 5.38, "v": 1.35}, {"pos": 5.38, "v": 1.2}, {"pos": 5.38, "v": 1.0}, {"pos": 5.38, "v": 0.75}, {"pos": 5.38, "v": 0.2}, {"pos": 5.38, "v": 0.05}, {"pos": 5.38, "v": 0},
{"pos": 6.38, "v": 2.5}, {"pos": 6.38, "v": 1.95}, {"pos": 6.38, "v": 1.9}, {"pos": 6.38, "v": 1.85}, {"pos": 6.38, "v": 1.75}, {"pos": 6.38, "v": 1.55}, {"pos": 6.38, "v": 1.3}, {"pos": 6.38, "v": 0.9}, {"pos": 6.38, "v": 0.2}, {"pos": 6.38, "v": 0},
{"pos": 7.38, "v": 2.4}, {"pos": 7.38, "v": 2.2}, {"pos": 7.38, "v": 2.0}, {"pos": 7.38, "v": 1.9}, {"pos": 7.38, "v": 1.85}, {"pos": 7.38, "v": 1.7}, {"pos": 7.38, "v": 1.6}, {"pos": 7.38, "v": 1.0}, {"pos": 7.38, "v": 0.95}, {"pos": 7.38, "v": 0.4},
{"pos": 8.38, "v": 2.65}, {"pos": 8.38, "v": 2.4}, {"pos": 8.38, "v": 2.4}, {"pos": 8.38, "v": 2.1}, {"pos": 8.38, "v": 2.1}, {"pos": 8.38, "v": 1.95}, {"pos": 8.38, "v": 1.9}, {"pos": 8.38, "v": 0.65}, {"pos": 8.38, "v": 0}, {"pos": 8.38, "v": 0}
]
},
"config": {
"font": "Liberation Sans",
"view": {"stroke": null},
"axis": {"grid": false, "domainColor": "#000000", "domainWidth": 1.6, "tickColor": "#000000", "tickWidth": 1.6, "tickSize": 5, "labelFont": "Liberation Sans", "labelFontSize": 16, "labelFontWeight": "bold", "labelColor": "#000000", "labelPadding": 2, "labelOverlap": false, "titleFont": "Liberation Sans", "titleFontSize": 18, "titleFontWeight": "normal", "titleColor": "#000000"},
"legend": {"labelFont": "Liberation Sans", "labelFontSize": 17, "labelLimit": 400, "symbolSize": 0, "symbolOpacity": 0, "symbolStrokeWidth": 0, "labelOffset": 0, "padding": 0, "offset": 0, "orient": "none"},
"title": {"font": "Liberation Sans", "fontSize": 20, "fontWeight": "bold", "anchor": "start", "frame": "group", "color": "#000000", "offset": 0}
}
}
